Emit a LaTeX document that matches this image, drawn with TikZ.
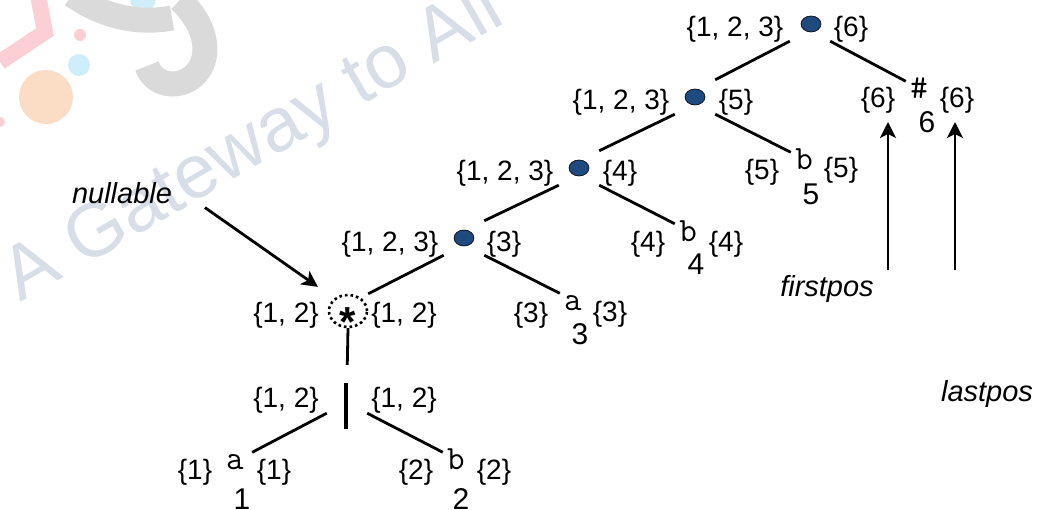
\documentclass[tikz,border=0pt]{standalone}
\usepackage{fontspec}
\setmainfont{Liberation Sans}
\usetikzlibrary{arrows.meta,shapes.geometric}
\definecolor{dotblue}{HTML}{1F4A80}
\definecolor{markblue}{HTML}{D7DEE8}
\definecolor{markred}{HTML}{FBCFD3}
\definecolor{markgray}{HTML}{DADADA}
\definecolor{markcyan}{HTML}{CFEEFC}
\definecolor{markorange}{HTML}{FBDCC4}
\tikzset{
  setlabel/.style={anchor=base, inner sep=0pt},
  numlabel/.style={setlabel, font=\fontsize{30}{32}\selectfont},
  opbox/.style={rectangle, inner sep=0pt, minimum width=40pt, minimum height=34pt},
  catdot/.style={ellipse, draw=black, line width=0.6pt, fill=dotblue, inner sep=0pt, minimum width=20pt, minimum height=16pt},
  leafsym/.style={rectangle, inner sep=0pt, minimum width=26pt, minimum height=18pt, text height=17pt, text depth=0pt,
    font=\ttfamily\fontsize{34}{36}\selectfont},
  edgeline/.style={line width=2.8pt},
  callout/.style={line width=2.8pt, -{Stealth[length=16pt,width=16pt,inset=4pt]}},
  note/.style={setlabel, font=\itshape\fontsize{29}{31}\selectfont}
}
\begin{document}
\begin{tikzpicture}[x=1pt, y=-1pt, font=\fontsize{28}{30}\selectfont]
  \useasboundingbox (0,0) rectangle (1037,510);

  % ---- Watermark ----
  \begin{scope}
    \clip (0,0) rectangle (1037,510);
    \fill[markorange] (46,97) circle (27);
    \fill[markcyan] (79,65) circle (11);
    \fill[markcyan] (143,-1) circle (13);
    \fill[markred] (80,35) circle (6);
    \fill[markred] (0,122) circle (5);
    \draw[markred, line width=16pt] (38,-5) -- (45,32) -- (0,62);
    \draw[markgray, line width=25pt] (72,-5) .. controls (105,18) and (140,24) .. (172,18);
    \draw[markgray, line width=25pt] (180,0) .. controls (222,40) and (205,84) .. (172,84) .. controls (160,84) and (150,76) .. (147,66);
    \node[rotate=30, anchor=base west, inner sep=0pt, text=markblue, font=\fontsize{76}{78}\selectfont] (mark) at (20,303) {A Gateway to All};
  \end{scope}

  % ---- Uzly operatoru ----
  \node[opbox] (cat1) at (810,24) {};
  \node[catdot] (dot1) at (811,24) {};
  \node[opbox] (cat2) at (695,97) {};
  \node[catdot] (dot2) at (695,97) {};
  \node[opbox] (cat3) at (579,168) {};
  \node[catdot] (dot3) at (579,168) {};
  \node[opbox] (cat4) at (464,238) {};
  \node[catdot] (dot4) at (464,238) {};
  \node[opbox] (star) at (348,311) {};
  \node[ellipse, draw, dash pattern=on 2.6pt off 3pt, line width=2.6pt, inner sep=0pt, minimum width=38pt, minimum height=32pt] (starring) at (348,311) {};
  \node[setlabel, font=\bfseries\fontsize{42}{44}\selectfont] (starsym) at (348,337) {*};
  \node[opbox] (alt) at (347,396) {};
  \node[fill=black, inner sep=0pt, minimum width=4.5pt, minimum height=46pt] (altbar) at (346,406) {};

  % ---- Listy ----
  \node[leafsym, minimum width=34pt] (leafa1) at (235,461.5) {a};
  \node[leafsym] (leafb2) at (456,461.5) {b};
  \node[leafsym] (leafa3) at (573,302.5) {a};
  \node[leafsym] (leafb4) at (688,233) {b};
  \node[leafsym] (leafb5) at (804,161.5) {b};
  \node[leafsym] (leafend) at (919,90.5) {\#};
  \node[numlabel] (num1) at (242,510) {1};
  \node[numlabel] (num2) at (461,510) {2};
  \node[numlabel] (num3) at (580,345) {3};
  \node[numlabel] (num4) at (696,275) {4};
  \node[numlabel] (num5) at (811,205) {5};
  \node[numlabel] (num6) at (927,133) {6};

  % ---- firstpos (vlevo) ----
  \node[setlabel] (fp1) at (735,37) {\{1, 2, 3\}};
  \node[setlabel] (fp2) at (621,110) {\{1, 2, 3\}};
  \node[setlabel] (fp3) at (505,181) {\{1, 2, 3\}};
  \node[setlabel] (fp4) at (390,252) {\{1, 2, 3\}};
  \node[setlabel] (fpstar) at (286,323) {\{1, 2\}};
  \node[setlabel] (fpalt) at (286,408) {\{1, 2\}};
  \node[setlabel] (fpa1) at (195,480) {\{1\}};
  \node[setlabel] (fpb2) at (416,480) {\{2\}};
  \node[setlabel] (fpa3) at (531,323) {\{3\}};
  \node[setlabel] (fpb4) at (648,252) {\{4\}};
  \node[setlabel] (fpb5) at (762,180) {\{5\}};
  \node[setlabel] (fpend) at (878,108) {\{6\}};

  % ---- lastpos (vpravo) ----
  \node[setlabel] (lp1) at (851,37) {\{6\}};
  \node[setlabel] (lp2) at (736,110) {\{5\}};
  \node[setlabel] (lp3) at (620,181) {\{4\}};
  \node[setlabel] (lp4) at (504,252) {\{3\}};
  \node[setlabel] (lpstar) at (404,323) {\{1, 2\}};
  \node[setlabel] (lpalt) at (404,408) {\{1, 2\}};
  \node[setlabel] (lpa1) at (274,480) {\{1\}};
  \node[setlabel] (lpb2) at (494,480) {\{2\}};
  \node[setlabel] (lpa3) at (610,322) {\{3\}};
  \node[setlabel] (lpb4) at (726,252) {\{4\}};
  \node[setlabel] (lpb5) at (841,178) {\{5\}};
  \node[setlabel] (lpend) at (957,108) {\{6\}};

  % ---- Popisky ----
  \node[note] (nullable) at (122,204) {nullable};
  \node[note] (firstpos) at (827,297) {firstpos};
  \node[note] (lastpos) at (987,402) {lastpos};
  \coordinate (firsttail) at (888,270);
  \coordinate (firsttip) at (888,122);
  \coordinate (lasttail) at (955,270);
  \coordinate (lasttip) at (955,122);

  % ---- Hrany stromu ----
  \draw[edgeline] (cat1.south west) -- (cat2.north east);
  \draw[edgeline] (cat1.south east) -- (leafend.north west);
  \draw[edgeline] (cat2.south west) -- (cat3.north east);
  \draw[edgeline] (cat2.south east) -- (leafb5.north west);
  \draw[edgeline] (cat3.south west) -- (cat4.north east);
  \draw[edgeline] (cat3.south east) -- (leafb4.north west);
  \draw[edgeline] (cat4.south west) -- (star.north east);
  \draw[edgeline] (cat4.south east) -- (leafa3.north west);
  \draw[edgeline, shorten >=14pt] (star.south) -- (alt.north);
  \draw[edgeline] (alt.south west) -- (leafa1.north east);
  \draw[edgeline] (alt.south east) -- (leafb2.north west);

  % ---- Sipky popisku ----
  \draw[callout, shorten <=40pt, shorten >=12pt] ([yshift=9pt]nullable.east) -- (star.north west);
  \draw[callout] (firsttail) -- (firsttip);
  \draw[callout] (lasttail) -- (lasttip);
\end{tikzpicture}
\end{document}
